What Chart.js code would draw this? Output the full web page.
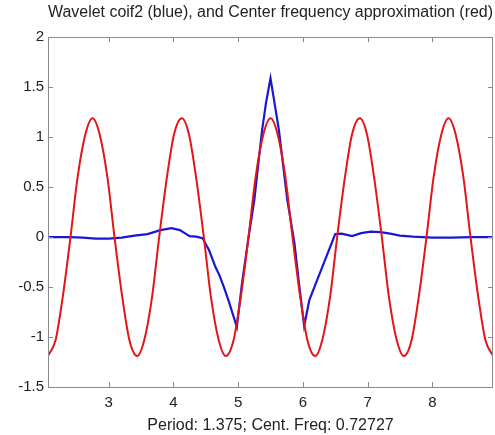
<!DOCTYPE html>
<html>
<head>
<meta charset="utf-8">
<script src="https://cdn.jsdelivr.net/npm/chart.js@4.4.1/dist/chart.umd.min.js"></script>
<style>
  html, body { margin: 0; padding: 0; background: #fff; }
  #wrap { width: 495px; height: 435px; }
</style>
</head>
<body>
<div id="wrap"><canvas id="chart"></canvas></div>
<script>
// ── Data ──
const xMin = 2.0625;
const xMax = 8.9375;
const xTicks = [3, 4, 5, 6, 7, 8];
const yTicks = [-1.5, -1, -0.5, 0, 0.5, 1, 1.5, 2];

// wavelet coif2 (blue)
const waveX = [2.06, 2.4, 2.6, 2.8, 3.0, 3.2, 3.4, 3.6, 3.8, 3.97, 4.1, 4.2, 4.25, 4.35, 4.45,
  4.55, 4.65, 4.71, 4.78, 4.86, 4.98, 5.06, 5.17, 5.25, 5.37, 5.43, 5.5, 5.58, 5.63, 5.76,
  5.87, 5.94, 6.02, 6.1, 6.22, 6.36, 6.5, 6.6, 6.76, 6.9, 7.05, 7.2, 7.35, 7.5, 7.7, 8.0,
  8.3, 8.6, 8.94];
const waveY = [0, 0, -0.005, -0.015, -0.015, -0.005, 0.015, 0.03, 0.07, 0.09, 0.07, 0.03, 0.01, 0.005, -0.01,
  -0.13, -0.3, -0.38, -0.5, -0.65, -0.9, -0.46, 0.04, 0.37, 1.07, 1.34, 1.59, 1.27, 1.07, 0.37,
  -0.06, -0.46, -0.89, -0.63, -0.43, -0.2, 0.03, 0.035, 0.01, 0.04, 0.055, 0.05, 0.035, 0.015, 0.005, -0.005,
  -0.005, 0, 0];

// center frequency approximation (red)
const cosX = [2.06, 2.18, 2.29, 2.41, 2.52, 2.64, 2.75, 2.86, 2.98, 3.09, 3.21, 3.32,
  3.44, 3.55, 3.67, 3.78, 3.90, 4.01, 4.13, 4.24, 4.35, 4.47, 4.58, 4.70,
  4.81, 4.93, 5.04, 5.16, 5.27, 5.39, 5.5, 5.61, 5.73, 5.84, 5.96, 6.07,
  6.19, 6.30, 6.42, 6.53, 6.65, 6.76, 6.88, 6.99, 7.10, 7.22, 7.33, 7.45,
  7.56, 7.68, 7.79, 7.91, 8.02, 8.14, 8.25, 8.36, 8.48, 8.59, 8.71, 8.82, 8.94];
const cosY = [-1.19, -1.03, -0.6, 0, 0.6, 1.03, 1.19, 1.03, 0.6, 0, -0.6, -1.03,
  -1.19, -1.03, -0.6, 0, 0.6, 1.03, 1.19, 1.03, 0.6, 0, -0.6, -1.03,
  -1.19, -1.03, -0.6, 0, 0.6, 1.03, 1.19, 1.03, 0.6, 0, -0.6, -1.03,
  -1.19, -1.03, -0.6, 0, 0.6, 1.03, 1.19, 1.03, 0.6, 0, -0.6, -1.03,
  -1.19, -1.03, -0.6, 0, 0.6, 1.03, 1.19, 1.03, 0.6, 0, -0.6, -1.03, -1.19];

const titleText = 'Wavelet coif2 (blue), and Center frequency approximation (red)';
const xLabel = 'Period: 1.375; Cent. Freq: 0.72727';

const FONT = "'Liberation Sans', Arial, sans-serif";
const AXIS = '#8a8a8a';
const TEXT = '#222';

// ── MATLAB style box with inward ticks ──
const boxPlugin = {
  id: 'box',
  afterDatasetsDraw(chart) {
    const { ctx, chartArea: a, scales } = chart;
    const len = 5;
    ctx.save();
    ctx.strokeStyle = AXIS;
    ctx.lineWidth = 1;
    ctx.strokeRect(Math.round(a.left) + 0.5, Math.round(a.top) + 0.5,
      Math.round(a.right - a.left) - 1, Math.round(a.bottom - a.top));
    ctx.beginPath();
    scales.x.ticks.forEach(t => {
      const px = Math.round(scales.x.getPixelForValue(t.value)) + 0.5;
      ctx.moveTo(px, a.bottom); ctx.lineTo(px, a.bottom - len);
      ctx.moveTo(px, a.top); ctx.lineTo(px, a.top + len);
    });
    scales.y.ticks.forEach(t => {
      const py = Math.round(scales.y.getPixelForValue(t.value)) + 0.5;
      ctx.moveTo(a.left, py); ctx.lineTo(a.left + len, py);
      ctx.moveTo(a.right, py); ctx.lineTo(a.right - len, py);
    });
    ctx.stroke();
    ctx.restore();
  }
};

new Chart(document.getElementById('chart'), {
  type: 'line',
  data: {
    datasets: [
      {
        label: 'center frequency',
        data: cosX.map((x, i) => ({ x, y: cosY[i] })),
        borderColor: 'rgb(228,20,24)',
        borderWidth: 2,
        pointRadius: 0,
        cubicInterpolationMode: 'monotone',
        order: 1,
      },
      {
        label: 'coif2',
        data: waveX.map((x, i) => ({ x, y: waveY[i] })),
        borderColor: 'rgb(24,24,210)',
        borderWidth: 2.2,
        pointRadius: 0,
        tension: 0,
        order: 2,
      },
    ],
  },
  options: {
    responsive: true,
    maintainAspectRatio: false,
    animation: false,
    layout: { padding: { right: 2 } },
    plugins: {
      legend: { display: false },
      tooltip: { enabled: false },
      title: {
        display: true, text: titleText, color: TEXT, fullSize: false,
        font: { family: FONT, size: 16, weight: 'normal' },
        padding: { top: 3, bottom: 15 },
      },
    },
    scales: {
      x: {
        type: 'linear', min: xMin, max: xMax,
        afterBuildTicks: s => { s.ticks = xTicks.map(v => ({ value: v })); },
        afterFit: s => { s.height = 48; },
        grid: { display: false, drawTicks: false },
        border: { display: false },
        ticks: { color: TEXT, padding: 7, font: { family: FONT, size: 15 }, callback: v => String(v) },
        title: { display: true, text: xLabel, color: TEXT, padding: { top: 4, bottom: 0 },
          font: { family: FONT, size: 16 } },
      },
      y: {
        type: 'linear', min: -1.5, max: 2,
        afterBuildTicks: s => { s.ticks = yTicks.map(v => ({ value: v })); },
        afterFit: s => { s.width = 48; },
        grid: { display: false, drawTicks: false },
        border: { display: false },
        ticks: { color: TEXT, padding: 4, font: { family: FONT, size: 15 }, callback: v => String(v) },
      },
    },
  },
  plugins: [boxPlugin],
});
</script>
</body>
</html>
